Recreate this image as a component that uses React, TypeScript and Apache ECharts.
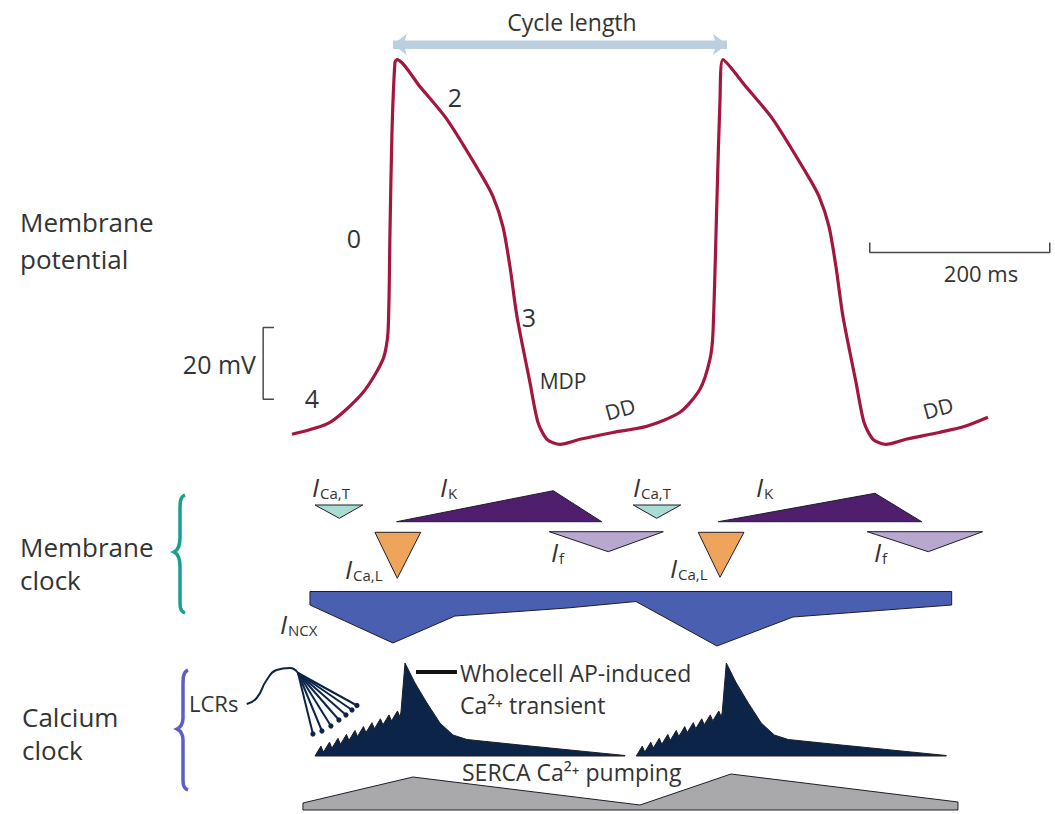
import React, { useEffect, useRef } from "react";
import * as echarts from "echarts";

// ---------- Membrane potential (time in ms, voltage in mV) ----------
const AP_T = [0, 42.2, 78.9, 101.1, 106.7, 108.9, 111.1, 114.4, 116.7, 142.2, 172.2, 208.9, 223.3, 234.4, 242.2, 250, 264.4, 273.3, 283.3, 297.8, 320, 356.7, 394.4, 431.1, 453.3, 464.4, 467.8, 472.2, 475.6, 478.9, 504.4, 534.4, 571.1, 585.6, 596.7, 604.4, 612.2, 626.7, 635.6, 645.6, 660, 682.2, 718.9, 747.8, 773.3];
const AP_V = [-59.4, -56.1, -47.8, -38.6, -31.1, -3.3, 24.4, 43.9, 44.7, 37.2, 28.1, 13.3, 6.7, -1.7, -12.8, -26.7, -45, -56.1, -60.8, -62.2, -60.8, -58.9, -57.2, -53.3, -46.9, -38.6, -31.1, 5.8, 33.6, 44.7, 37.2, 28.1, 13.3, 6.7, -1.7, -12.8, -26.7, -45, -56.1, -60.8, -62.2, -60.8, -58.9, -57.2, -54.7];

const MV_BAR = [[-20, -29.7], [-32, -29.7], [-32, -49.7], [-20, -49.7]];
const MS_BAR = [[642, -6.1], [642, -8.9], [842, -8.9], [842, -6.1]];
const CYCLE_ARROW = [[112.2, 48.9], [483.3, 48.9]];

// ---------- Membrane clock currents (time in ms, row level in a.u.) ----------
const ICAT_1 = [[25.6, 45], [78.6, 45], [52.6, 58.3]];
const ICAT_2 = [[379.2, 45], [431.9, 45], [405.2, 58.3]];
const IK_1 = [[116.3, 61.7], [290.3, 30.7], [344.1, 61.7]];
const IK_2 = [[473.7, 61.7], [647.8, 33.3], [699.7, 61.7]];
const ICAL_1 = [[92.2, 72.3], [143, 72.3], [117, 118.3]];
const ICAL_2 = [[451.4, 72.3], [502.2, 72.3], [475.6, 117.3]];
const IF_1 = [[285.9, 71.7], [412.6, 71.7], [351.4, 91.7]];
const IF_2 = [[639.2, 71.7], [767.4, 71.7], [707, 91.7]];
const INCX = [[20, 131.5], [733, 131.5], [733, 145], [556.7, 157], [472.2, 186], [382.2, 141.5], [305.6, 148], [181.1, 156], [112.2, 183], [20, 145]];

// ---------- Calcium clock ----------
const CA_1 = [[25.6, 296], [32.2, 286.1], [35, 292.1], [41.7, 282.2], [44.4, 288.2], [51.1, 278.3], [53.9, 284.3], [60.6, 274.4], [63.3, 280.4], [70, 270.5], [72.8, 276.5], [79.4, 266.6], [82.2, 272.6], [88.9, 262.7], [91.7, 268.7], [98.3, 258.8], [101.1, 264.8], [107.8, 254.9], [110.6, 260.9], [117.2, 251], [120, 257], [121.1, 252], [125.6, 203], [136.7, 223], [150, 243], [164.4, 263], [178.9, 275], [194.4, 279.5], [253.3, 285], [308.9, 290], [370, 295.5], [370, 296]];
const CA_2 = [[382.6, 296], [389.2, 286.1], [392, 292.1], [398.7, 282.2], [401.4, 288.2], [408.1, 278.3], [410.9, 284.3], [417.6, 274.4], [420.3, 280.4], [427, 270.5], [429.8, 276.5], [436.4, 266.6], [439.2, 272.6], [445.9, 262.7], [448.7, 268.7], [455.3, 258.8], [458.1, 264.8], [464.8, 254.9], [467.6, 260.9], [474.2, 251], [477, 257], [478.1, 252], [482.6, 203], [493.7, 223], [507, 243], [521.4, 263], [535.9, 275], [551.4, 279.5], [610.3, 285], [665.9, 290], [727, 295.5], [727, 296]];
const SERCA = [[12.2, 343], [134.4, 317], [386.7, 345], [487.8, 314], [740, 342], [740, 350], [12.2, 350]];
const LCR_ARC = [[-50.3, 244], [-39.2, 238], [-28.1, 220], [-17, 210], [-2.2, 208], [6.7, 213]];
const LCR_ORIGIN = [6.7, 213];
const LCR_ENDS = [[23.3, 274], [33.3, 271], [43.3, 266], [52.2, 260], [60, 255], [66.7, 250], [72.2, 245.5]];
const TRANSIENT_TICK = [[137.8, 212], [183.3, 212]];

const SHAPES = [
  { pts: ICAT_1, fill: "#a9ddd4" },
  { pts: ICAT_2, fill: "#a9ddd4" },
  { pts: IK_1, fill: "#4f1e6c" },
  { pts: IK_2, fill: "#4f1e6c" },
  { pts: ICAL_1, fill: "#efa45c" },
  { pts: ICAL_2, fill: "#efa45c" },
  { pts: IF_1, fill: "#b8a7ce" },
  { pts: IF_2, fill: "#b8a7ce" },
  { pts: INCX, fill: "#4a5fb0" },
  { pts: CA_1, fill: "#0c2447" },
  { pts: CA_2, fill: "#0c2447" },
  { pts: SERCA, fill: "#a9a9ac" },
];

const FONT = "'Open Sans', 'Noto Sans', sans-serif";
const TXT = "#333333";

let registered = false;
function registerBraces() {
  if (registered) return;
  registered = true;
  echarts.graphic.registerShape(
    "braceTeal",
    echarts.graphic.extendPath(
      "M185,495 C180,497 180,502 180,510 L180,538 C180,546 178,550 174,552 C178,554 180,558 180,566 L180,600 C180,607 180,611 185,613",
      {}
    )
  );
  echarts.graphic.registerShape(
    "braceBlue",
    echarts.graphic.extendPath(
      "M188,670 C183,672 183,678 183,686 L183,718 C183,724 181,727 177,729 C181,731 183,734 183,740 L183,778 C183,784 183,788 188,790",
      {}
    )
  );
}

function txt(text: string, x: number, y: number, size: number, extra: any = {}) {
  return {
    type: "text",
    x,
    y,
    silent: true,
    style: {
      text,
      fill: TXT,
      font: `${size}px ${FONT}`,
      textAlign: extra.align || "left",
      textVerticalAlign: "middle",
      lineHeight: extra.lh,
    },
    rotation: extra.rot || 0,
  };
}

function currentLabel(sub: string, x: number, y: number) {
  return {
    type: "text",
    x,
    y,
    silent: true,
    style: {
      text: `{i|I}{s|${sub}}`,
      textVerticalAlign: "middle",
      rich: {
        i: { font: `italic 26px ${FONT}`, fill: TXT, verticalAlign: "bottom" },
        s: { font: `15px ${FONT}`, fill: TXT, verticalAlign: "bottom", padding: [0, 0, 0, 1] },
      },
    },
  };
}

export default function App() {
  const ref = useRef<HTMLDivElement>(null);
  useEffect(() => {
    document.body.style.margin = "0";
    registerBraces();
    const chart = echarts.init(ref.current!, null, { renderer: "svg" });

    const polySeries = SHAPES.map((s) => ({
      type: "custom",
      xAxisIndex: 1,
      yAxisIndex: 1,
      silent: true,
      clip: false,
      data: [s.pts[0]],
      renderItem: (_p: any, api: any) => ({
        type: "polygon",
        shape: { points: s.pts.map((pt) => api.coord(pt)) },
        style: { fill: s.fill, stroke: "#1e1e2a", lineWidth: 1 },
      }),
    }));

    chart.setOption({
      animation: false,
      backgroundColor: "#ffffff",
      grid: [
        { left: 0, top: 1, width: 1055, height: 457 },
        { left: 0, top: 460, width: 1055, height: 354 },
      ],
      xAxis: [
        { type: "value", gridIndex: 0, min: -324.4, max: 847.8, show: false },
        { type: "value", gridIndex: 1, min: -324.4, max: 847.8, show: false },
      ],
      yAxis: [
        { type: "value", gridIndex: 0, min: -66, max: 61, show: false },
        { type: "value", gridIndex: 1, min: 0, max: 354, inverse: true, show: false },
      ],
      series: [
        {
          type: "line",
          name: "Membrane potential",
          xAxisIndex: 0,
          yAxisIndex: 0,
          data: AP_T.map((t, i) => [t, AP_V[i]]),
          showSymbol: false,
          smooth: 0.25,
          lineStyle: { color: "#a3173f", width: 3.2 },
          silent: true,
        },
        {
          type: "line",
          xAxisIndex: 0,
          yAxisIndex: 0,
          data: MV_BAR,
          showSymbol: false,
          lineStyle: { color: "#4a4a4a", width: 1.5 },
          silent: true,
        },
        {
          type: "line",
          xAxisIndex: 0,
          yAxisIndex: 0,
          data: MS_BAR,
          showSymbol: false,
          lineStyle: { color: "#4a4a4a", width: 1.5 },
          silent: true,
        },
        {
          type: "line",
          xAxisIndex: 0,
          yAxisIndex: 0,
          data: CYCLE_ARROW,
          showSymbol: false,
          lineStyle: { color: "#bccfdf", width: 8 },
          silent: true,
          markLine: {
            silent: true,
            symbol: ["arrow", "arrow"],
            symbolSize: [16, 14],
            label: { show: false },
            lineStyle: { color: "#bccfdf", width: 8, type: "solid" },
            data: [[{ coord: CYCLE_ARROW[0] }, { coord: CYCLE_ARROW[1] }]],
          },
        },
        ...polySeries,
        {
          type: "line",
          xAxisIndex: 1,
          yAxisIndex: 1,
          data: LCR_ARC,
          showSymbol: false,
          smooth: 0.5,
          lineStyle: { color: "#0c2447", width: 2 },
          silent: true,
        },
        {
          type: "custom",
          xAxisIndex: 1,
          yAxisIndex: 1,
          silent: true,
          clip: false,
          data: LCR_ENDS,
          renderItem: (_p: any, api: any) => {
            const o = api.coord(LCR_ORIGIN);
            const e = api.coord([api.value(0), api.value(1)]);
            return {
              type: "group",
              children: [
                { type: "line", shape: { x1: o[0], y1: o[1], x2: e[0], y2: e[1] }, style: { stroke: "#0c2447", lineWidth: 2 } },
                { type: "circle", shape: { cx: e[0], cy: e[1], r: 2.6 }, style: { fill: "#0c2447" } },
              ],
            };
          },
        },
        {
          type: "line",
          xAxisIndex: 1,
          yAxisIndex: 1,
          data: TRANSIENT_TICK,
          showSymbol: false,
          lineStyle: { color: "#111111", width: 4 },
          silent: true,
        },
      ],
      graphic: [
        txt("Cycle length", 572, 22, 23, { align: "center" }),
        txt("2", 455, 97, 25, { align: "center" }),
        txt("0", 354, 238, 25, { align: "center" }),
        txt("3", 529, 317, 25, { align: "center" }),
        txt("4", 312, 398, 25, { align: "center" }),
        txt("MDP", 563, 381, 21, { align: "center" }),
        txt("DD", 620, 409, 21, { align: "center", rot: 0.27 }),
        txt("DD", 938, 408, 21, { align: "center", rot: 0.27 }),
        txt("Membrane", 20, 222, 26),
        txt("potential", 20, 259, 26),
        txt("20 mV", 256, 364, 25, { align: "right" }),
        txt("200 ms", 981, 273, 22, { align: "center" }),
        txt("Membrane", 20, 547, 26),
        txt("clock", 20, 580, 26),
        txt("Calcium", 22, 717, 26),
        txt("clock", 22, 750, 26),
        txt("LCRs", 189, 703, 22),
        txt("Wholecell AP-induced", 460, 673, 23),
        txt("Ca²⁺ transient", 460, 705, 23),
        txt("SERCA Ca²⁺ pumping", 462, 772, 23),
        currentLabel("Ca,T", 312, 487),
        currentLabel("Ca,T", 633, 487),
        currentLabel("K", 440, 487),
        currentLabel("K", 756, 487),
        currentLabel("Ca,L", 345, 569),
        currentLabel("Ca,L", 670, 568),
        currentLabel("f", 551, 552),
        currentLabel("f", 874, 552),
        currentLabel("NCX", 280, 624),
        { type: "braceTeal", silent: true, style: { stroke: "#17a08e", lineWidth: 3.5, fill: "none" } },
        { type: "braceBlue", silent: true, style: { stroke: "#5a5fc6", lineWidth: 3.5, fill: "none" } },
      ],
    });
    return () => chart.dispose();
  }, []);
  return <div ref={ref} style={{ width: 1055, height: 814 }} />;
}
